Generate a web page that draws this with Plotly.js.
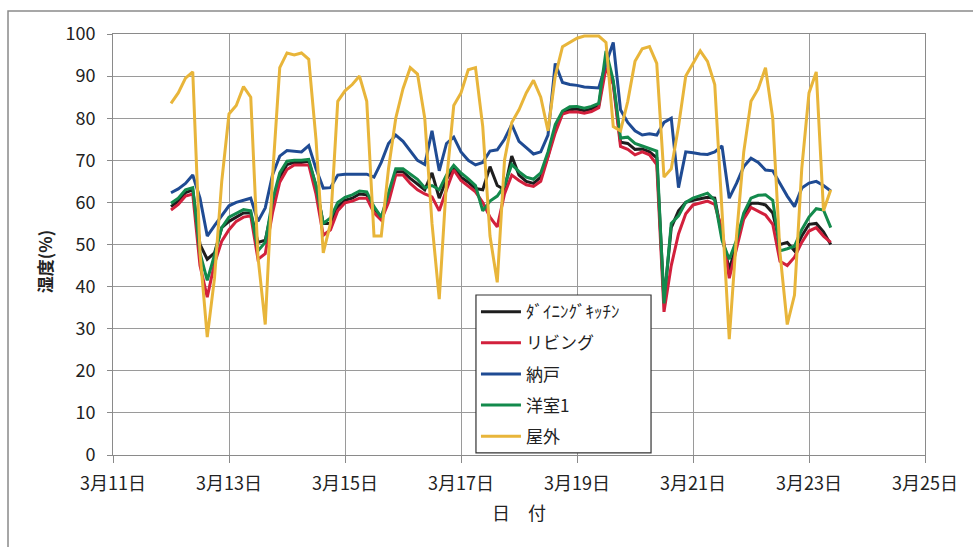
<!DOCTYPE html>
<html>
<head>
<meta charset="utf-8">
<script src="https://cdn.plot.ly/plotly-3.0.1.min.js"></script>
<style>html,body{margin:0;padding:0;background:#fff;}#chart{width:973px;height:547px;}</style>
</head>
<body>
<div id="chart"></div>
<script>
// Time grid: readings every 3 hours starting 3/12 00:00
const startDay = 12;
const stepHours = 3;

const dining = [59,60.3,62.3,63,50,46.5,48,54,55.5,56.5,57.5,57.5,50.5,51,59,66,69,69.5,69.5,69.8,64,55,55,59,60.5,61,62,61.8,58.5,56.5,61,67.3,67.3,65.7,64.3,63,67,61,65.5,68.3,66,64.8,63.3,63,68.5,64,63,71,66.5,65,64.5,66,71,77.5,81.4,82,82.2,81.8,82.2,83,94,88.5,74.3,74,72.6,72.7,72,70.6,36.5,54,58,60,60.5,60.8,61.2,61,52,44,50,56.8,59.8,59.8,59.4,57.5,50,50.5,48.5,52,54.8,55,53,50];
const living = [58.2,59.5,61.5,62,45,37.5,45.5,50.8,53.5,55.5,56.5,56.8,46.5,47.8,57.5,64.8,67.8,68.9,68.9,68.9,62,52.2,53.5,58,59.9,60.3,61,61,57.5,55.8,60,66.5,66.5,64.5,63,62,61.3,58,63,67.7,65.2,63.9,62.5,60,56.5,54.2,62,66.5,65.2,64.2,63.8,65,70.5,76.5,81,81.5,81.5,81.2,81.6,82.5,92,88,73.3,72.6,71.3,72,71.3,69,34,45,52.5,57.3,59.4,59.8,60.3,59.5,53.5,42,49,56,58.8,57.8,57,54.8,46,45,47,50.5,53.2,54,52,50.5];
const storage = [62.3,63.2,64.5,66.5,61,52,54.5,57,59.2,60,60.5,61,55.5,58.7,66.5,71,72.3,72.2,72,73.5,68,63.4,63.5,66.5,66.7,66.7,66.7,66.7,66,69.5,74,76,74.5,72.2,70,69,77,67.5,74,75.5,72,70,68.9,69.5,72.2,72.5,75,78.5,74.5,73,71.5,72,76,93,88.5,88,87.8,87.4,87.3,87.2,93,98,82,79,77,76,76.3,76,79,80,63.5,72,71.8,71.5,71.4,72,73.4,61,64.5,68.5,70.5,69.5,67.7,67.5,64.5,61.5,59,63.4,64.6,65,64,62.7];
const room1 = [59.8,61,63,63.5,48,41.5,47.5,54,56.5,57.5,58.3,58,48.5,50.5,60.5,67,69.8,70,70,70.2,64,55,56.3,60,61.2,61.8,62.7,62.5,59,56.5,62,68,68,66.8,65.5,63.5,64,63,66.5,68.8,67,65.6,64,58,60.3,61.5,64,69,67.3,66,65.5,67,72,78.5,81.7,82.7,82.8,82.4,82.8,83.5,96,89,75.3,75.5,74,73.4,72.8,72.2,36,55,56.8,60,61,61.6,62.2,60.5,51,46.5,51,57.5,61,61.7,61.8,60.5,48.5,49,49.6,53.5,56.5,58.5,58.2,54];
const outdoor = [83.5,86,89.5,91,48,28,42,65,81,83,87.5,85,47,31,66,92,95.5,95,95.5,94,75,48,55,84,86.5,88,90,84,52,52,68,80,87,92,90.5,80,55,37,65,83,86,91.5,92,78,52,41,70,79,82,86,89,85,77,90,97,98,99,99.5,99.5,99.5,98,78,77,84,93.5,96.5,97,93,66,68,78,90,93,96,93.5,88,58,27.5,52,72,84,87,92,80,48,31,38,68,86,91,58,63];

const seriesNames = ['ﾀﾞｲﾆﾝｸﾞｷｯﾁﾝ','リビング','納戸','洋室1','屋外'];
const seriesColors = ['#1e1e1e','#d2203c','#1f4b93','#138a4c','#e8b53a'];

const tickVals = ['2013-03-11','2013-03-13','2013-03-15','2013-03-17','2013-03-19','2013-03-21','2013-03-23','2013-03-25'];
const tickText = ['3月11日','3月13日','3月15日','3月17日','3月19日','3月21日','3月23日','3月25日'];

function pad(n){return (n<10?'0':'')+n;}
const times = dining.map((_, k) => {
  const h = k*stepHours;
  const d = startDay + Math.floor(h/24);
  return '2013-03-' + pad(d) + ' ' + pad(h%24) + ':00';
});

const allValues = [dining, living, storage, room1, outdoor];
const traces = allValues.map((vals, i) => ({
  type: 'scatter', mode: 'lines',
  x: times, y: vals, name: seriesNames[i],
  legendgroup: 'g'+i,
  line: {color: seriesColors[i], width: 3}
}));

const FONT = '"Noto Sans CJK JP", "Noto Sans", sans-serif';
const layout = {
  width: 973, height: 547,
  margin: {l: 113, r: 48, t: 34, b: 92},
  paper_bgcolor: '#fff', plot_bgcolor: '#fff',
  font: {family: FONT, size: 17, color: '#222'},
  showlegend: true,
  legend: {
    x: 0.447, y: 0.382, xanchor: 'left', yanchor: 'top',
    bgcolor: 'rgba(0,0,0,0)', borderwidth: 0,
    font: {family: FONT, size: 17, color: '#222'},
    tracegroupgap: 6, itemwidth: 40
  },
  xaxis: {
    type: 'date',
    range: ['2013-03-11', '2013-03-25'],
    tickvals: tickVals, ticktext: tickText,
    showgrid: true, gridcolor: '#9a9a9a', gridwidth: 1,
    showline: true, linecolor: '#8a8a8a', linewidth: 1, mirror: true,
    ticks: 'outside', ticklen: 7, tickcolor: '#8a8a8a',
    tickfont: {family: FONT, size: 18, color: '#222'},
    ticklabelstandoff: 5,
    zeroline: false,
    title: {text: '日　付', font: {family: FONT, size: 18, color: '#222'}, standoff: 13}
  },
  yaxis: {
    range: [0, 100], dtick: 10, tick0: 0,
    showgrid: true, gridcolor: '#9a9a9a', gridwidth: 1,
    showline: true, linecolor: '#8a8a8a', linewidth: 1, mirror: true,
    ticks: 'outside', ticklen: 5, tickcolor: '#8a8a8a',
    tickfont: {family: FONT, size: 18, color: '#222'},
    ticklabelstandoff: 8,
    zeroline: false
  },
  annotations: [{
    text: '<b>湿度(%)</b>', textangle: -90,
    xref: 'paper', yref: 'paper', x: -0.084, y: 0.46,
    xanchor: 'center', yanchor: 'middle', showarrow: false,
    font: {family: FONT, size: 17, color: '#222'}
  }],
  shapes: [{
    type: 'rect', xref: 'paper', yref: 'paper',
    x0: -0.1293, x1: 1.08, y0: -0.25, y1: 1.0546,
    line: {color: '#8a8a8a', width: 1.5}, fillcolor: 'rgba(0,0,0,0)'
  }, {
    type: 'rect', xref: 'paper', yref: 'paper', layer: 'above',
    x0: 0.447, x1: 0.6626, y0: 0.005, y1: 0.380,
    line: {color: '#333', width: 1.2}, fillcolor: '#fff'
  }]
};

Plotly.newPlot('chart', traces, layout, {displayModeBar: false, staticPlot: true});
</script>
</body>
</html>
